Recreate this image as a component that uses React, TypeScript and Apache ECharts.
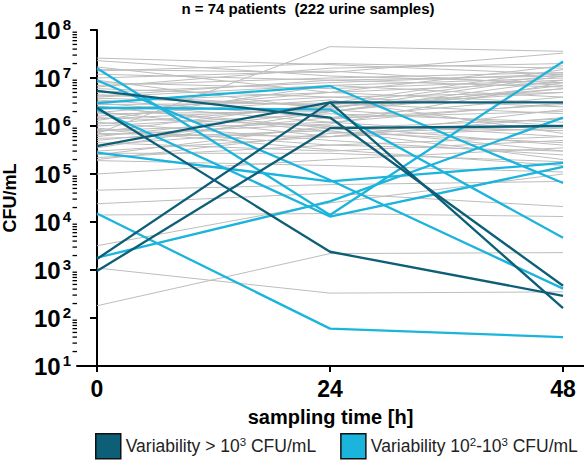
import React, { useEffect, useRef } from 'react';
import * as echarts from 'echarts';

const hours = [0, 24, 48];
const xTickValues = [0, 24, 48];
const yExponents = [1, 2, 3, 4, 5, 6, 7, 8];
const minorMultipliers = [2, 3, 4, 5, 6, 7, 8, 9];

const titleText = 'n = 74 patients  (222 urine samples)';
const yName = 'CFU/mL';
const xName = 'sampling time [h]';
const darkName = 'Variability > 10^3 CFU/mL';
const cyanName = 'Variability 10^2-10^3 CFU/mL';

// Variability > 10^3 CFU/mL (values at 0, 24, 48 h)
const darkSeries: number[][] = [
  [5.4e6, 1.5e6, 470],
  [2.4e6, 2400, 290],
  [3.8e5, 3.1e6, 3.1e6],
  [1700, 3.1e6, 160],
  [950, 9e5, 1e6],
];

// Variability 10^2-10^3 CFU/mL
const cyanSeries: number[][] = [
  [1.6e7, 1.4e4, 2.2e7],
  [9e6, 7.5e4, 410],
  [3e6, 6.8e6, 6.5e4],
  [2.4e6, 2.2e6, 4.7e3],
  [2.8e5, 7e4, 1.7e5],
  [1.5e4, 60, 40],
  [1800, 2.7e4, 1.5e6],
  [2.2e6, 1.3e4, 1.4e5],
];

// remaining patients
const greySeries: number[][] = [
  [2.6e7, 1.9e7, 1.2e7],
  [2.3e7, 1.1e7, 8e6],
  [7e5, 4.5e7, 3.6e7],
  [1.5e7, 1.3e7, 3.3e7],
  [1.2e7, 9e6, 1.1e7],
  [1e7, 1.4e7, 7e6],
  [8e6, 6e6, 9e6],
  [7e6, 1e7, 1.3e7],
  [6e6, 4e6, 5e6],
  [5e6, 8e6, 1.2e7],
  [4.5e6, 2.5e6, 6e6],
  [4e6, 7e6, 4e6],
  [3.5e6, 1.5e6, 2e6],
  [3.2e6, 5e6, 8e6],
  [3e6, 1.2e6, 6e5],
  [2.8e6, 3e6, 1.5e7],
  [2.5e6, 9e5, 3e5],
  [2.2e6, 4e6, 2.5e6],
  [2e6, 6e5, 1.5e6],
  [1.8e6, 2e6, 9e6],
  [1.6e6, 3.5e6, 7e5],
  [1.5e6, 1e6, 4e5],
  [1.3e6, 7e6, 1e7],
  [1.2e6, 5e5, 2.5e5],
  [1.1e6, 2.5e6, 5e6],
  [1e6, 1.8e6, 1.2e6],
  [9e5, 4e5, 6e5],
  [8e5, 1.2e6, 3e6],
  [7.5e5, 3e6, 1.8e6],
  [7e5, 6e5, 9e5],
  [6e5, 2e6, 7e6],
  [5.5e5, 8e5, 2e5],
  [5e5, 1.5e6, 4e6],
  [4.5e5, 3e5, 5e5],
  [4e5, 9e5, 1.4e6],
  [3.5e5, 2e6, 6e6],
  [3e5, 6e5, 2.2e6],
  [2.5e5, 1e6, 8e5],
  [2.2e5, 4e5, 3e5],
  [2e5, 7e5, 1e6],
  [1.9e5, 1.5e5, 1.1e5],
  [1e5, 2e5, 3.5e5],
  [4.6e4, 6e4, 7e4],
  [2.4e4, 4e4, 2.1e4],
  [1.4e4, 1.5e4, 1.3e4],
  [3.2e3, 2.5e4, 1e5],
  [1.1e3, 330, 350],
  [180, 2.2e3, 2.3e3],
  [1.7e7, 5e6, 3e6],
  [1.4e7, 2e7, 1.6e7],
  [9e6, 2.2e6, 1e6],
  [6.5e6, 1.6e7, 2e7],
  [5.5e6, 1.4e6, 2.8e6],
  [4.2e6, 9e6, 6.5e6],
  [3.8e6, 2.7e6, 1.2e7],
  [2.6e6, 7.5e5, 4.5e5],
  [1.9e6, 5e6, 1.8e7],
  [1.4e6, 2.3e6, 1.1e7],
  [8.5e5, 3.2e5, 1.5e5],
  [6.5e5, 1.1e6, 8e6],
  [2.7e5, 2.7e5, 1.8e5],
];

const DARK = '#0d5f77';
const CYAN = '#1ab4dc';
const GREY = '#bdbdbd';
const FONT = "'Liberation Sans', Arial, Helvetica, sans-serif";
const X_MIN = -2.06;
const X_MAX = 50.16;

export default function App() {
  const ref = useRef<HTMLDivElement>(null);

  useEffect(() => {
    const el = ref.current;
    if (!el) return;
    const chart = echarts.init(el, null, { renderer: 'svg' });

    const mk = (vals: number[], name: string, color: string, width: number, z: number) => ({
      type: 'line',
      name,
      data: vals.map((v, i) => [hours[i], v]),
      showSymbol: false,
      symbol: 'none',
      lineStyle: { color, width },
      itemStyle: { color },
      z,
      silent: true,
      animation: false,
    });

    const series: any[] = [
      ...greySeries.map((s) => mk(s, 'grey', GREY, 1, 1)),
      ...cyanSeries.map((s) => mk(s, cyanName, CYAN, 2.3, 3)),
      ...darkSeries.map((s) => mk(s, darkName, DARK, 2.3, 4)),
    ];

    const titleGraphic = {
      id: 'title',
      type: 'text',
      x: 308,
      y: 8,
      style: {
        text: titleText,
        textAlign: 'center',
        textVerticalAlign: 'middle',
        font: `bold 15px ${FONT}`,
        fill: '#000',
      },
    };

    chart.setOption({
      animation: false,
      textStyle: { fontFamily: FONT },
      grid: { left: 77, right: 0, top: 30, bottom: 95, containLabel: false, outerBoundsMode: 'none' },
      graphic: [titleGraphic],
      legend: {
        top: 433,
        left: 95,
        padding: 0,
        itemWidth: 25,
        itemHeight: 25,
        itemGap: 24,
        icon: 'rect',
        selectedMode: false,
        data: [
          { name: darkName, icon: 'rect', itemStyle: { color: DARK, borderColor: '#111', borderWidth: 1.5 } },
          { name: cyanName, icon: 'rect', itemStyle: { color: CYAN, borderColor: '#111', borderWidth: 1.5 } },
        ],
        formatter: (name: string) =>
          name === darkName
            ? '{t|Variability > 10}{s|3}{t| CFU/mL}'
            : '{t|Variability 10}{s|2}{t|-10}{s|3}{t| CFU/mL}',
        textStyle: {
          color: '#222',
          fontFamily: FONT,
          rich: {
            t: { fontSize: 17.5, fontFamily: FONT, color: '#222', lineHeight: 20 },
            s: { fontSize: 11.5, fontFamily: FONT, color: '#222', verticalAlign: 'top', lineHeight: 11 },
          },
        },
      },
      xAxis: {
        type: 'value',
        min: X_MIN,
        max: X_MAX,
        name: xName,
        nameLocation: 'middle',
        nameGap: 41,
        nameTextStyle: { fontSize: 20, fontWeight: 'bold', color: '#000', fontFamily: FONT },
        axisLine: { show: true, onZero: false, lineStyle: { color: '#000', width: 2 } },
        axisTick: { show: true, customValues: xTickValues, length: 6, lineStyle: { color: '#000', width: 2 } },
        axisLabel: {
          customValues: xTickValues,
          margin: 11,
          fontSize: 23,
          fontWeight: 'bold',
          color: '#000',
          fontFamily: FONT,
        },
        splitLine: { show: false },
      },
      yAxis: {
        type: 'log',
        logBase: 10,
        min: 10,
        max: 1e8,
        interval: 1,
        name: yName,
        nameLocation: 'middle',
        nameGap: 58,
        nameTextStyle: { fontSize: 18, fontWeight: 'bold', color: '#000', fontFamily: FONT },
        axisLine: { show: true, lineStyle: { color: '#000', width: 2 } },
        axisTick: { show: true, length: 7, lineStyle: { color: '#000', width: 2 } },
        axisLabel: {
          margin: 6,
          formatter: (v: number) => `{b|10}{s|${Math.round(Math.log10(v))}}`,
          rich: {
            b: { fontSize: 24, fontWeight: 'bold', color: '#000', fontFamily: FONT, lineHeight: 26 },
            s: { fontSize: 15, fontWeight: 'bold', color: '#000', fontFamily: FONT, verticalAlign: 'top', lineHeight: 13, padding: [0, 0, 0, 2] },
          },
        },
        splitLine: { show: false },
      },
      series,
    });

    // minor log ticks (2..9 per decade), placed through the y axis scale
    const x0 = chart.convertToPixel({ xAxisIndex: 0 }, X_MIN) as number;
    const ticks: any[] = [];
    yExponents.slice(0, -1).forEach((e) => {
      minorMultipliers.forEach((m) => {
        const y = chart.convertToPixel({ yAxisIndex: 0 }, m * Math.pow(10, e)) as number;
        ticks.push({
          type: 'line',
          silent: true,
          z: 100,
          shape: { x1: x0 - 4.5, y1: y, x2: x0, y2: y },
          style: { stroke: '#000', lineWidth: 1.3 },
        });
      });
    });
    chart.setOption({ graphic: [titleGraphic, { id: 'minorTicks', type: 'group', children: ticks }] });

    return () => chart.dispose();
  }, []);

  return (
    <div
      ref={ref}
      style={{ position: 'fixed', left: 0, top: 0, width: 584, height: 461, background: '#fff' }}
    />
  );
}
